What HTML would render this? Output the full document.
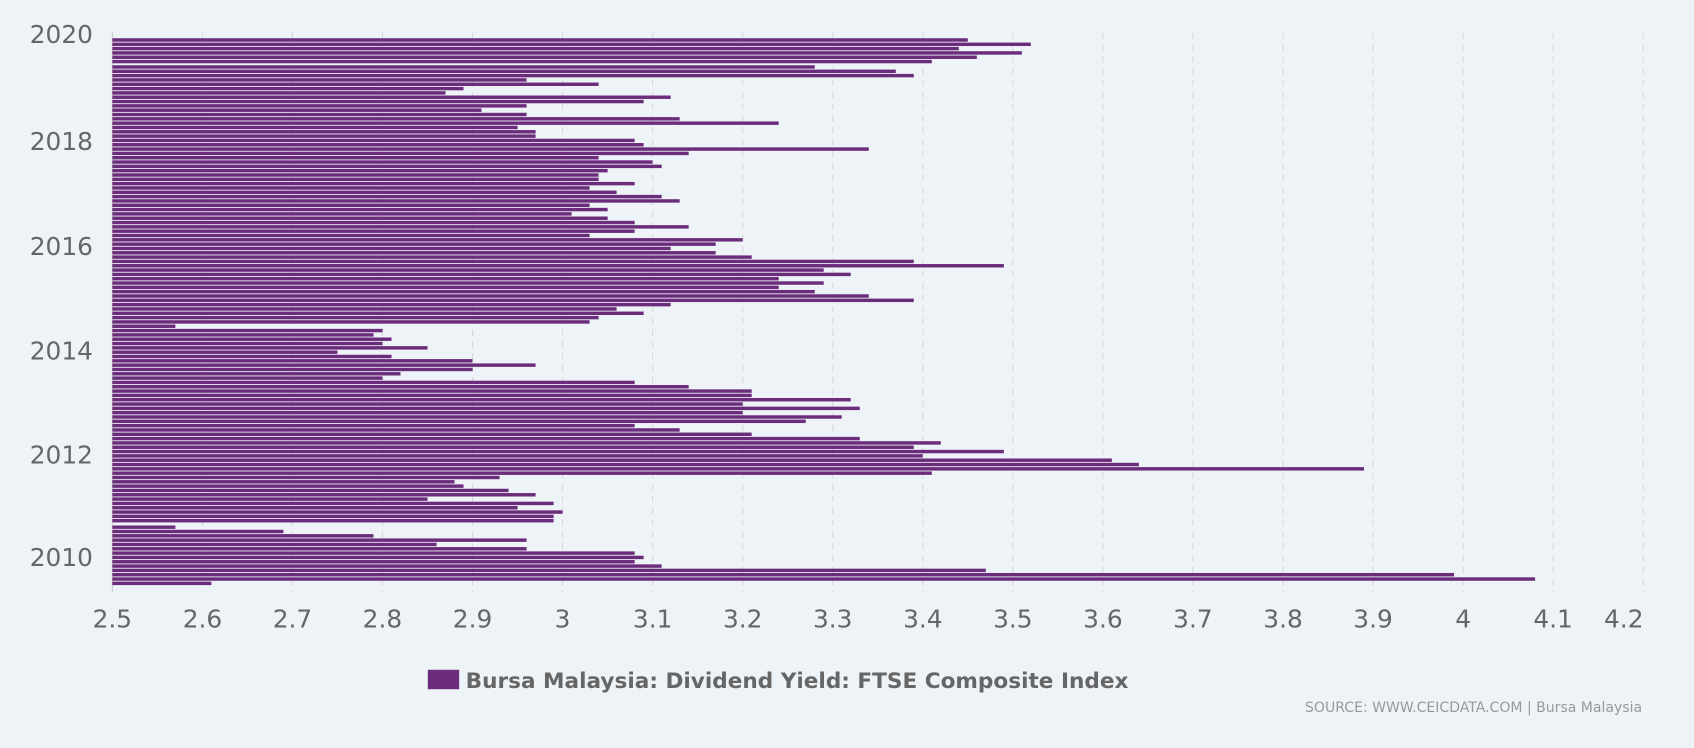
<!DOCTYPE html>
<html><head><meta charset="utf-8"><style>
html,body{margin:0;padding:0;background:#eef3f8;}
svg{display:block;}
text{font-family:"DejaVu Sans","Liberation Sans",sans-serif;}
</style></head><body>
<svg width="1694" height="748" viewBox="0 0 1568 692.4" preserveAspectRatio="none" xmlns="http://www.w3.org/2000/svg">
<rect width="1568" height="692.4" fill="#eef3f8"/>
<g stroke="#d8d8d8" stroke-width="1" stroke-dasharray="6,5">
<line x1="187.4" y1="30" x2="187.4" y2="548"/><line x1="270.7" y1="30" x2="270.7" y2="548"/><line x1="354" y1="30" x2="354" y2="548"/><line x1="437.4" y1="30" x2="437.4" y2="548"/><line x1="520.7" y1="30" x2="520.7" y2="548"/><line x1="604.1" y1="30" x2="604.1" y2="548"/><line x1="687.5" y1="30" x2="687.5" y2="548"/><line x1="770.8" y1="30" x2="770.8" y2="548"/><line x1="854.2" y1="30" x2="854.2" y2="548"/><line x1="937.5" y1="30" x2="937.5" y2="548"/><line x1="1020.9" y1="30" x2="1020.9" y2="548"/><line x1="1104.2" y1="30" x2="1104.2" y2="548"/><line x1="1187.6" y1="30" x2="1187.6" y2="548"/><line x1="1270.9" y1="30" x2="1270.9" y2="548"/><line x1="1354.3" y1="30" x2="1354.3" y2="548"/><line x1="1437.6" y1="30" x2="1437.6" y2="548"/><line x1="1521" y1="30" x2="1521" y2="548"/>
</g>
<line x1="104" y1="30" x2="104" y2="548" stroke="#ccc" stroke-width="1"/>
<g transform="translate(104,0) scale(833.5,1)" fill="#6b2d7b">
<rect y="35.4" height="3.2" width="0.95"/>
<rect y="39.4" height="3.2" width="1.02"/>
<rect y="43.4" height="3.2" width="0.94"/>
<rect y="47.4" height="3.2" width="1.01"/>
<rect y="51.4" height="3.2" width="0.96"/>
<rect y="55.4" height="3.2" width="0.91"/>
<rect y="60.4" height="3.2" width="0.78"/>
<rect y="64.4" height="3.2" width="0.87"/>
<rect y="68.4" height="3.2" width="0.89"/>
<rect y="72.4" height="3.2" width="0.46"/>
<rect y="76.4" height="3.2" width="0.54"/>
<rect y="80.4" height="3.2" width="0.39"/>
<rect y="84.4" height="3.2" width="0.37"/>
<rect y="88.4" height="3.2" width="0.62"/>
<rect y="92.4" height="3.2" width="0.59"/>
<rect y="96.4" height="3.2" width="0.46"/>
<rect y="100.4" height="3.2" width="0.41"/>
<rect y="104.4" height="3.2" width="0.46"/>
<rect y="108.4" height="3.2" width="0.63"/>
<rect y="112.4" height="3.2" width="0.74"/>
<rect y="116.4" height="3.2" width="0.45"/>
<rect y="120.4" height="3.2" width="0.47"/>
<rect y="124.4" height="3.2" width="0.47"/>
<rect y="128.4" height="3.2" width="0.58"/>
<rect y="132.4" height="3.2" width="0.59"/>
<rect y="136.4" height="3.2" width="0.84"/>
<rect y="140.4" height="3.2" width="0.64"/>
<rect y="144.4" height="3.2" width="0.54"/>
<rect y="148.4" height="3.2" width="0.60"/>
<rect y="152.4" height="3.2" width="0.61"/>
<rect y="156.4" height="3.2" width="0.55"/>
<rect y="160.4" height="3.2" width="0.54"/>
<rect y="164.4" height="3.2" width="0.54"/>
<rect y="168.4" height="3.2" width="0.58"/>
<rect y="172.4" height="3.2" width="0.53"/>
<rect y="176.4" height="3.2" width="0.56"/>
<rect y="180.4" height="3.2" width="0.61"/>
<rect y="184.4" height="3.2" width="0.63"/>
<rect y="188.4" height="3.2" width="0.53"/>
<rect y="192.4" height="3.2" width="0.55"/>
<rect y="196.4" height="3.2" width="0.51"/>
<rect y="200.4" height="3.2" width="0.55"/>
<rect y="204.4" height="3.2" width="0.58"/>
<rect y="208.4" height="3.2" width="0.64"/>
<rect y="212.4" height="3.2" width="0.58"/>
<rect y="216.4" height="3.2" width="0.53"/>
<rect y="220.4" height="3.2" width="0.70"/>
<rect y="224.4" height="3.2" width="0.67"/>
<rect y="228.4" height="3.2" width="0.62"/>
<rect y="232.4" height="3.2" width="0.67"/>
<rect y="236.4" height="3.2" width="0.71"/>
<rect y="240.4" height="3.2" width="0.89"/>
<rect y="244.4" height="3.2" width="0.99"/>
<rect y="248.4" height="3.2" width="0.79"/>
<rect y="252.4" height="3.2" width="0.82"/>
<rect y="256.4" height="3.2" width="0.74"/>
<rect y="260.4" height="3.2" width="0.79"/>
<rect y="264.4" height="3.2" width="0.74"/>
<rect y="268.4" height="3.2" width="0.78"/>
<rect y="272.4" height="3.2" width="0.84"/>
<rect y="276.4" height="3.2" width="0.89"/>
<rect y="280.4" height="3.2" width="0.62"/>
<rect y="284.4" height="3.2" width="0.56"/>
<rect y="288.4" height="3.2" width="0.59"/>
<rect y="292.4" height="3.2" width="0.54"/>
<rect y="296.4" height="3.2" width="0.53"/>
<rect y="300.4" height="3.2" width="0.07"/>
<rect y="304.4" height="3.2" width="0.30"/>
<rect y="308.4" height="3.2" width="0.29"/>
<rect y="312.4" height="3.2" width="0.31"/>
<rect y="316.4" height="3.2" width="0.30"/>
<rect y="320.4" height="3.2" width="0.35"/>
<rect y="324.4" height="3.2" width="0.25"/>
<rect y="328.4" height="3.2" width="0.31"/>
<rect y="332.4" height="3.2" width="0.40"/>
<rect y="336.4" height="3.2" width="0.47"/>
<rect y="340.4" height="3.2" width="0.40"/>
<rect y="344.4" height="3.2" width="0.32"/>
<rect y="348.4" height="3.2" width="0.30"/>
<rect y="352.4" height="3.2" width="0.58"/>
<rect y="356.4" height="3.2" width="0.64"/>
<rect y="360.4" height="3.2" width="0.71"/>
<rect y="364.4" height="3.2" width="0.71"/>
<rect y="368.4" height="3.2" width="0.82"/>
<rect y="372.4" height="3.2" width="0.70"/>
<rect y="376.4" height="3.2" width="0.83"/>
<rect y="380.4" height="3.2" width="0.70"/>
<rect y="384.4" height="3.2" width="0.81"/>
<rect y="388.4" height="3.2" width="0.77"/>
<rect y="392.4" height="3.2" width="0.58"/>
<rect y="396.4" height="3.2" width="0.63"/>
<rect y="400.4" height="3.2" width="0.71"/>
<rect y="404.4" height="3.2" width="0.83"/>
<rect y="408.4" height="3.2" width="0.92"/>
<rect y="412.4" height="3.2" width="0.89"/>
<rect y="416.4" height="3.2" width="0.99"/>
<rect y="420.4" height="3.2" width="0.90"/>
<rect y="424.4" height="3.2" width="1.11"/>
<rect y="428.4" height="3.2" width="1.14"/>
<rect y="432.4" height="3.2" width="1.39"/>
<rect y="436.4" height="3.2" width="0.91"/>
<rect y="440.4" height="3.2" width="0.43"/>
<rect y="444.4" height="3.2" width="0.38"/>
<rect y="448.4" height="3.2" width="0.39"/>
<rect y="452.4" height="3.2" width="0.44"/>
<rect y="456.4" height="3.2" width="0.47"/>
<rect y="460.4" height="3.2" width="0.35"/>
<rect y="464.4" height="3.2" width="0.49"/>
<rect y="468.4" height="3.2" width="0.45"/>
<rect y="472.4" height="3.2" width="0.50"/>
<rect y="476.4" height="3.2" width="0.49"/>
<rect y="480.4" height="3.2" width="0.49"/>
<rect y="486.4" height="3.2" width="0.07"/>
<rect y="490.4" height="3.2" width="0.19"/>
<rect y="494.4" height="3.2" width="0.29"/>
<rect y="498.4" height="3.2" width="0.46"/>
<rect y="502.4" height="3.2" width="0.36"/>
<rect y="506.4" height="3.2" width="0.46"/>
<rect y="510.4" height="3.2" width="0.58"/>
<rect y="514.4" height="3.2" width="0.59"/>
<rect y="518.4" height="3.2" width="0.58"/>
<rect y="522.4" height="3.2" width="0.61"/>
<rect y="526.4" height="3.2" width="0.97"/>
<rect y="530.4" height="3.2" width="1.49"/>
<rect y="534.4" height="3.2" width="1.58"/>
<rect y="538.4" height="3.2" width="0.11"/>
</g>
<g fill="#666" font-size="23" text-anchor="end">
<text x="86" y="40">2020</text><text x="86" y="139">2018</text><text x="86" y="236">2016</text><text x="86" y="333">2014</text><text x="86" y="429">2012</text><text x="86" y="524">2010</text>
</g>
<g fill="#666" font-size="23" text-anchor="middle">
<text x="104" y="581">2.5</text><text x="187.4" y="581">2.6</text><text x="270.7" y="581">2.7</text><text x="354" y="581">2.8</text><text x="437.4" y="581">2.9</text><text x="520.7" y="581">3</text><text x="604.1" y="581">3.1</text><text x="687.5" y="581">3.2</text><text x="770.8" y="581">3.3</text><text x="854.2" y="581">3.4</text><text x="937.5" y="581">3.5</text><text x="1020.9" y="581">3.6</text><text x="1104.2" y="581">3.7</text><text x="1187.6" y="581">3.8</text><text x="1270.9" y="581">3.9</text><text x="1354.3" y="581">4</text><text x="1437.6" y="581">4.1</text><text x="1503" y="581">4.2</text>
</g>
<rect x="396" y="620" width="29" height="18" fill="#6b2d7b"/>
<text x="431" y="637" fill="#666" font-size="20" font-weight="bold">Bursa Malaysia: Dividend Yield: FTSE Composite Index</text>
<text x="1520" y="659" fill="#999" font-size="13" text-anchor="end">SOURCE: WWW.CEICDATA.COM | Bursa Malaysia</text>
</svg>
</body></html>
